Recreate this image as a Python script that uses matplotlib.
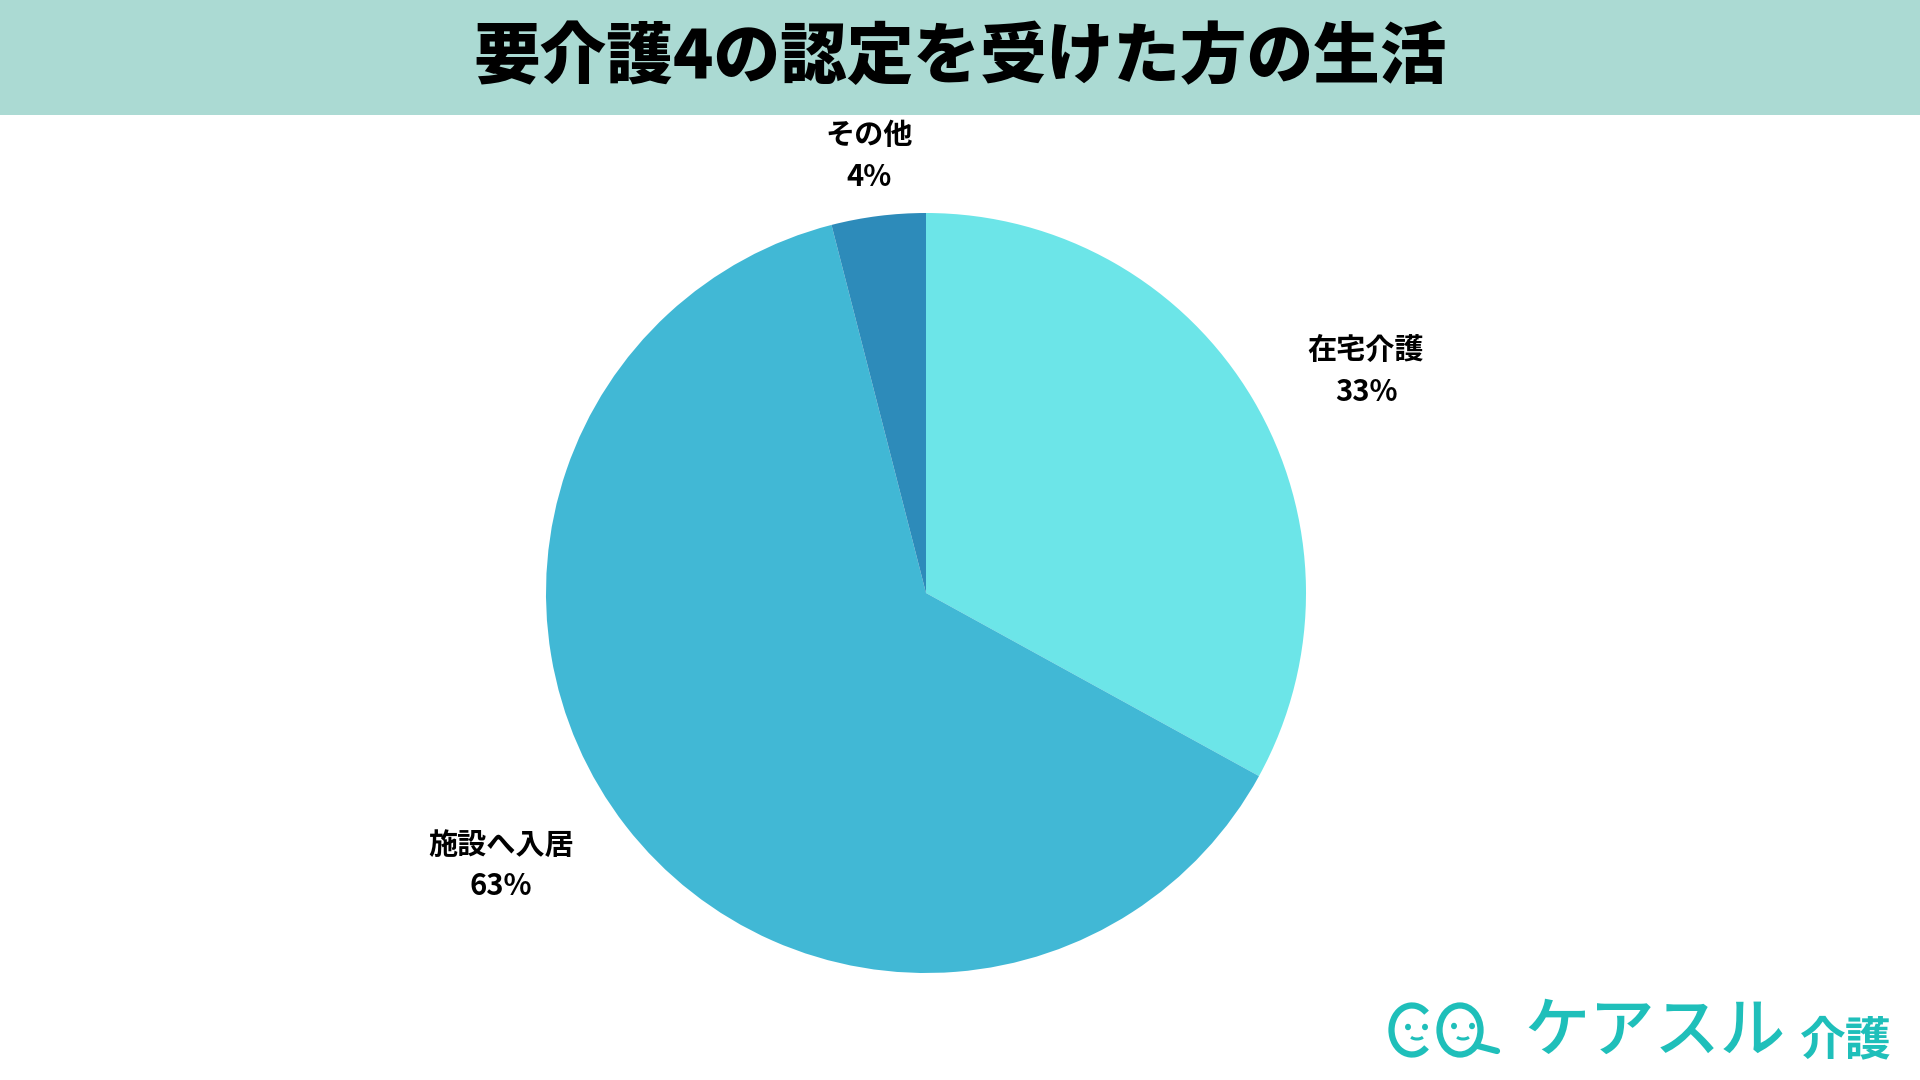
import matplotlib
matplotlib.use("Agg")
import matplotlib.pyplot as plt
from matplotlib.patches import Rectangle, Ellipse, Arc
import numpy as np

plt.rcParams['font.family'] = ['Noto Sans CJK JP', 'DejaVu Sans']

title = "要介護4の認定を受けた方の生活"
categories = ["在宅介護", "施設へ入居", "その他"]
values = [33, 63, 4]
colors = ["#6CE5E8", "#41B8D5", "#2D8BBA"]
# label anchor positions in pie-radius units (x, name line y, percent line y)
label_pos = [(1.158, 0.640, 0.530), (-1.118, -0.662, -0.772), (-0.15, 1.205, 1.095)]

W, H = 1920, 1080
fig = plt.figure(figsize=(19.2, 10.8), dpi=100)
fig.patch.set_facecolor("white")

# overlay in pixel coordinates
ov = fig.add_axes([0, 0, 1, 1], zorder=0)
ov.set_xlim(0, W)
ov.set_ylim(H, 0)
ov.axis("off")
ov.add_patch(Rectangle((0, 0), W, 115, facecolor="#ABDAD3", edgecolor="none"))
ov.text(960, 58, title, ha="center", va="center", fontsize=48, fontweight="black", color="black")

# pie
cx, cy, r = 926, 593, 380
ax = fig.add_axes([(cx - r) / W, (H - cy - r) / H, 2 * r / W, 2 * r / H], zorder=1)
ax.pie(values, colors=colors, startangle=90, counterclock=False,
       wedgeprops=dict(linewidth=0))
ax.set_xlim(-1, 1)
ax.set_ylim(-1, 1)
ax.set_aspect("equal")
ax.axis("off")
for cat, v, (x, y1, y2) in zip(categories, values, label_pos):
    ax.text(x, y1, cat, ha="center", va="center", fontsize=21, fontweight="bold", color="black")
    ax.text(x, y2, f"{v}%", ha="center", va="center", fontsize=21, fontweight="bold", color="black")

# logo
teal = "#1FBFBA"
lo = fig.add_axes([0, 0, 1, 1], zorder=2)
lo.set_xlim(0, W)
lo.set_ylim(H, 0)
lo.axis("off")
lo.patch.set_alpha(0)
# "C" face (gap on right side; y axis inverted so angles go clockwise on screen)
lo.add_patch(Arc((1412, 1030), 41, 49, theta1=50, theta2=310, color=teal, lw=4.5))
# "Q" face
lo.add_patch(Ellipse((1460, 1030), 41, 49, fill=False, edgecolor=teal, lw=4.5))
lo.plot([1478, 1497], [1046, 1051], color=teal, lw=4.5, solid_capstyle="round")
for ex, ey in [(1408, 1027), (1425, 1027), (1454, 1026), (1472, 1026)]:
    lo.add_patch(Ellipse((ex, ey), 4.5, 5, color=teal))
lo.add_patch(Arc((1417, 1035), 14, 8, theta1=20, theta2=160, color=teal, lw=2.2))
lo.add_patch(Arc((1463, 1035), 14, 8, theta1=20, theta2=160, color=teal, lw=2.2))
lo.text(1655, 1032, "ケアスル", ha="center", va="center", fontsize=47, color=teal, fontweight="medium")
lo.text(1846, 1041, "介護", ha="center", va="center", fontsize=33, color=teal, fontweight="bold")

fig.savefig("out.png", dpi=100, facecolor="white")
